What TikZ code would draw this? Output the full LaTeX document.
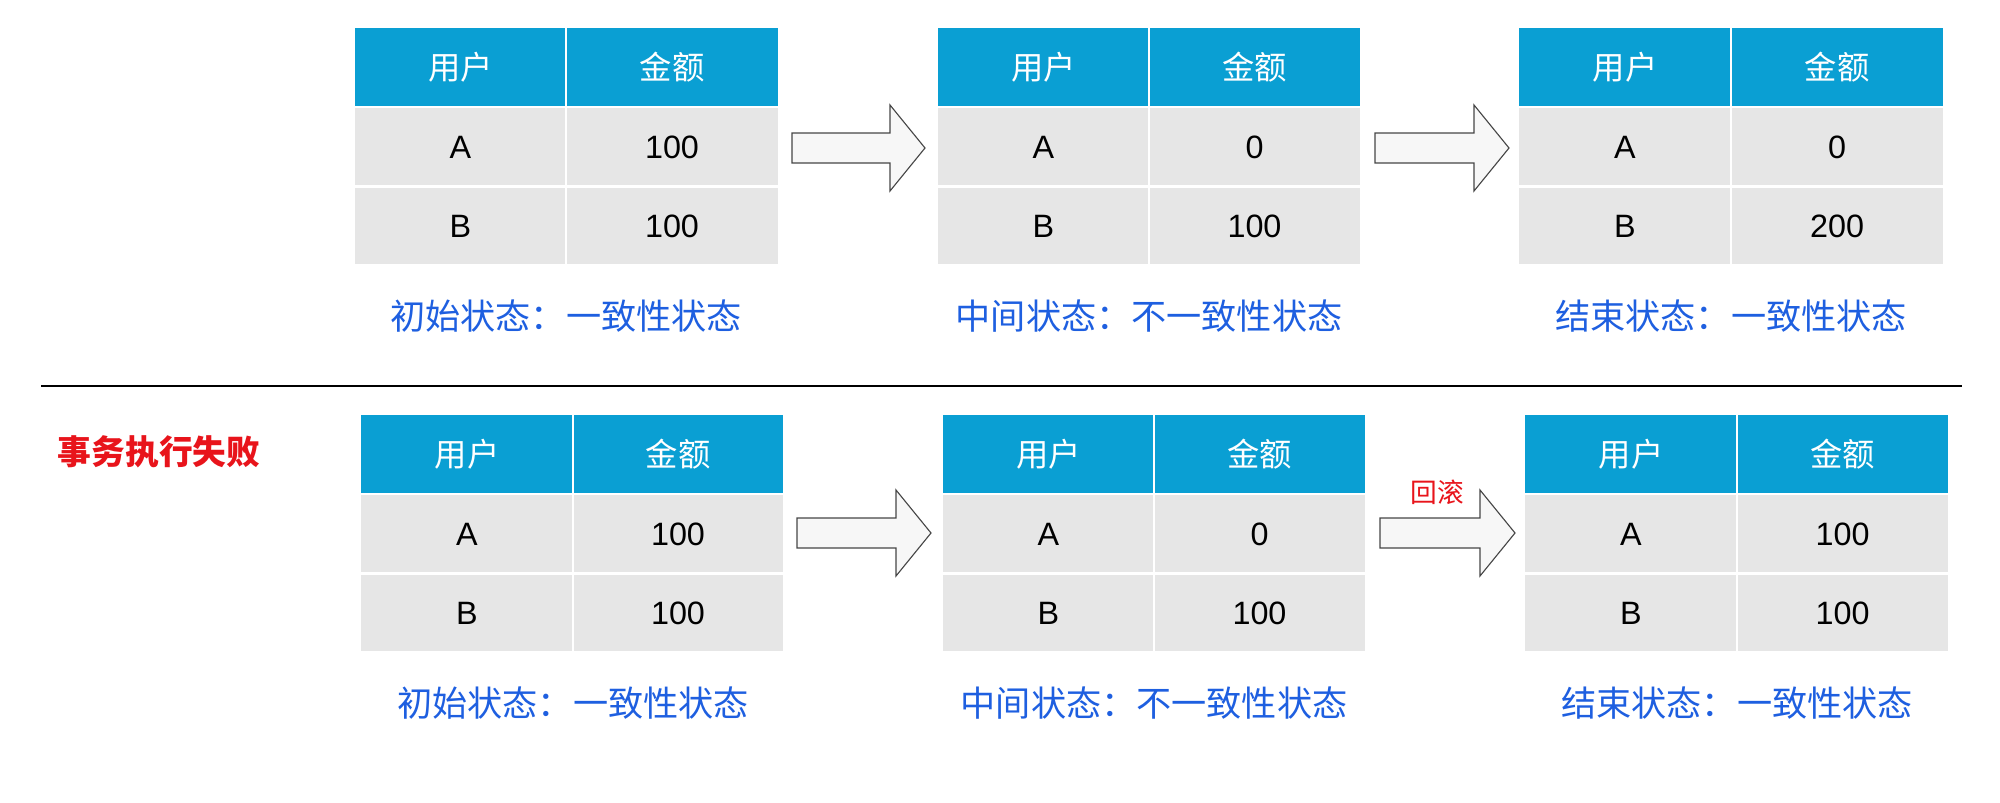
\documentclass[tikz,border=0pt]{standalone}
\usepackage{fontspec}
\setmainfont{Liberation Sans}
\newfontfamily\cjk{Noto Sans CJK SC}
\definecolor{hdr}{HTML}{0A9FD3}
\definecolor{cellc}{HTML}{E6E6E6}
\definecolor{lbl}{HTML}{1E5FE0}
\definecolor{redc}{HTML}{E8141B}
\tikzset{
 cellbox/.style={fill=cellc,draw=none,inner sep=0pt,font=\fontsize{46}{50}\selectfont},
 hdrbox/.style={fill=hdr,draw=none,inner sep=0pt,text=white,font=\cjk\fontsize{46}{50}\selectfont},
 lbltext/.style={text=lbl,font=\cjk\fontsize{50}{56}\selectfont,inner sep=0pt},
 blockarrow/.style={fill=gray!6,draw=gray!55!black,line width=1.6pt}
}
% #1 name, #2 left x, #3 divider x, #4 right x, #5 top y, #6 A val, #7 B val
\newcommand\mytable[7]{%
 \fill[hdr] (#2,#5) rectangle (#4,#5+78);
 \draw[white,line width=3pt] (#3,#5) -- (#3,#5+236);
 \node[hdrbox,text width=0] (#1h1) at ({(#2+#3)/2},#5+39) {};
 \node[text=white,font=\cjk\fontsize{46}{50}\selectfont] (#1u) at ({(#2+#3)/2},#5+39) {用户};
 \node[text=white,font=\cjk\fontsize{46}{50}\selectfont] (#1m) at ({(#3+#4)/2},#5+39) {金额};
 \fill[cellc] (#2,#5+80) rectangle (#4,#5+157);
 \fill[cellc] (#2,#5+160) rectangle (#4,#5+236);
 \draw[white,line width=3pt] (#3,#5+78) -- (#3,#5+236);
 \node[font=\fontsize{46}{50}\selectfont] (#1a) at ({(#2+#3)/2},#5+119) {A};
 \node[font=\fontsize{46}{50}\selectfont] (#1av) at ({(#3+#4)/2},#5+119) {#6};
 \node[font=\fontsize{46}{50}\selectfont] (#1b) at ({(#2+#3)/2},#5+198) {B};
 \node[font=\fontsize{46}{50}\selectfont] (#1bv) at ({(#3+#4)/2},#5+198) {#7};
}
\newcommand\myarrow[3]{% x0 x1 cy
 \draw[blockarrow] (#1,#3-15) -- (#2-35,#3-15) -- (#2-35,#3-43) -- (#2,#3) -- (#2-35,#3+43) -- (#2-35,#3+15) -- (#1,#3+15) -- cycle;
}
\begin{document}
\begin{tikzpicture}[x=0.05cm,y=-0.05cm]
\useasboundingbox (0,0) rectangle (2000,803);
\mytable{ta}{355}{566}{778}{28}{100}{100}
\mytable{tb}{938}{1149}{1360}{28}{0}{100}
\mytable{tc}{1519}{1731}{1943}{28}{0}{200}
\node[lbltext] (la) at (566,316) {初始状态：一致性状态};
\node[lbltext] (lb) at (1149,316) {中间状态：不一致性状态};
\node[lbltext] (lc) at (1731,316) {结束状态：一致性状态};
\myarrow{792}{925}{148}
\myarrow{1375}{1509}{148}
\coordinate (s1) at (41,386); \coordinate (s2) at (1962,386);
\draw[line width=2.2pt] (s1) -- (s2);
\mytable{da}{361}{573}{783}{415}{100}{100}
\mytable{db}{943}{1154}{1365}{415}{0}{100}
\mytable{dc}{1525}{1737}{1948}{415}{100}{100}
\node[lbltext] (ma) at (573,703) {初始状态：一致性状态};
\node[lbltext] (mb) at (1154,703) {中间状态：不一致性状态};
\node[lbltext] (mc) at (1737,703) {结束状态：一致性状态};
\myarrow{797}{931}{533}
\myarrow{1380}{1515}{533}
\node[text=redc,font=\cjk\fontsize{38}{42}\selectfont] (rb) at (1437,492) {回滚};
\node[text=redc,font=\cjk\bfseries\fontsize{48}{52}\selectfont] (fail) at (159,452) {事务执行失败};
\end{tikzpicture}
\end{document}
